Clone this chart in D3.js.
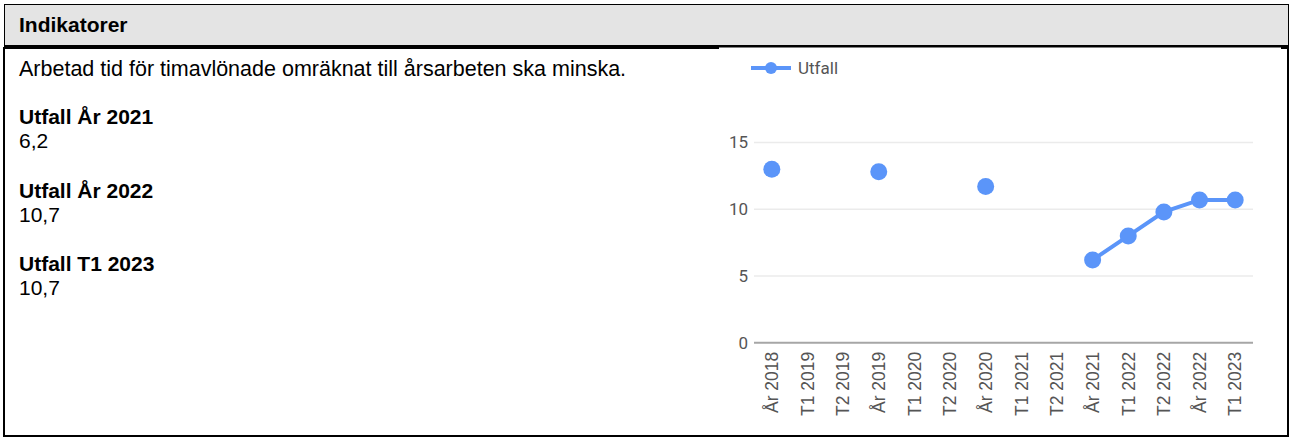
<!DOCTYPE html>
<meta charset="utf-8">
<style>
    body { margin: 0; background: #fff; }
    .info { font-family: "Liberation Sans", Arial, sans-serif; font-size: 21px; fill: #000; }
    .chart text { font-family: Roboto, "Liberation Sans", sans-serif; }
</style>

<script src="https://cdn.jsdelivr.net/npm/d3@7"></script>

<body>
<div id="card"></div>

<script>

    // chart data
    var categories = ["År 2018", "T1 2019", "T2 2019", "År 2019", "T1 2020", "T2 2020", "År 2020",
        "T1 2021", "T2 2021", "År 2021", "T1 2022", "T2 2022", "År 2022", "T1 2023"]
    var utfall = [13.0, null, null, 12.8, null, null, 11.7, null, null, 6.2, 8.0, 9.8, 10.7, 10.7]
    var yTicks = [0, 5, 10, 15]
    var seriesName = "Utfall"

    // text panel
    var title = "Indikatorer"
    var description = "Arbetad tid för timavlönade omräknat till årsarbeten ska minska."
    var infoLabels = ["Utfall År 2021", "Utfall År 2022", "Utfall T1 2023"]
    var infoValues = ["6,2", "10,7", "10,7"]

    var blue = "#5b95f9"

    var width = 1290
    var height = 439

    var svg = d3.select("#card")
        .append("svg")
        .attr("width", width)
        .attr("height", height)
        .style("display", "block")

    // outer frame + header
    svg.append("rect")
        .attr("x", 4.5).attr("y", 4.5)
        .attr("width", 1284).attr("height", 42)
        .attr("fill", "#e4e4e4")
        .attr("stroke", "#000")
        .attr("stroke-width", 1)

    svg.append("rect")
        .attr("x", 4).attr("y", 45)
        .attr("width", 1285).attr("height", 4)
        .attr("fill", "#000")

    svg.append("path")
        .attr("d", "M4,47 V436 H1288 V47")
        .attr("fill", "none")
        .attr("stroke", "#000")
        .attr("stroke-width", 2)

    // chart image background covers part of the header rule
    svg.append("rect")
        .attr("x", 719).attr("y", 47.5)
        .attr("width", 562).attr("height", 2)
        .attr("fill", "#fff")

    svg.append("text")
        .attr("class", "info")
        .attr("x", 19).attr("y", 32)
        .style("font-weight", "bold")
        .text(title)

    svg.append("text")
        .attr("class", "info")
        .attr("x", 19).attr("y", 76)
        .style("font-size", "21.5px")
        .text(description)

    infoLabels.forEach(function (lab, i) {
        svg.append("text")
            .attr("class", "info")
            .attr("x", 19).attr("y", 124 + i * 73.5)
            .style("font-weight", "bold")
            .text(lab)
        svg.append("text")
            .attr("class", "info")
            .attr("x", 19).attr("y", 148 + i * 73.5)
            .text(infoValues[i])
    })

    // chart
    var chart = svg.append("g").attr("class", "chart")

    var plotLeft = 754, plotRight = 1253, plotTop = 142.5, plotBottom = 342.7

    var x = d3.scalePoint()
        .domain(categories)
        .range([plotLeft, plotRight])
        .padding(0.5)

    var y = d3.scaleLinear()
        .domain([0, 15])
        .range([plotBottom, plotTop])

    // gridlines
    chart.selectAll(".grid")
        .data(yTicks)
        .enter()
        .append("line")
        .attr("x1", plotLeft).attr("x2", plotRight)
        .attr("y1", function (d) { return y(d) })
        .attr("y2", function (d) { return y(d) })
        .attr("stroke", function (d) { return d == 0 ? "#a6a6a6" : "#ebebeb" })
        .attr("stroke-width", function (d) { return d == 0 ? 2 : 1.5 })

    chart.selectAll(".ytick")
        .data(yTicks)
        .enter()
        .append("text")
        .attr("x", plotLeft - 6)
        .attr("y", function (d) { return y(d) })
        .attr("dy", "0.35em")
        .attr("text-anchor", "end")
        .attr("font-size", "17px")
        .attr("fill", "#555")
        .text(function (d) { return d })

    chart.selectAll(".xtick")
        .data(categories)
        .enter()
        .append("text")
        .attr("transform", function (d) { return "translate(" + x(d) + "," + (plotBottom + 9) + ") rotate(-90)" })
        .attr("dy", "0.36em")
        .attr("text-anchor", "end")
        .attr("font-size", "17.5px")
        .attr("fill", "#555")
        .style("font-family", "'Liberation Sans', Arial, sans-serif")
        .text(function (d) { return d })

    var pts = categories.map(function (c, i) { return { cat: c, v: utfall[i] } })

    var line = d3.line()
        .defined(function (d) { return d.v != null })
        .x(function (d) { return x(d.cat) })
        .y(function (d) { return y(d.v) })

    chart.append("path")
        .datum(pts)
        .attr("d", line)
        .attr("fill", "none")
        .attr("stroke", blue)
        .attr("stroke-width", 4)

    chart.selectAll(".dot")
        .data(pts.filter(function (d) { return d.v != null }))
        .enter()
        .append("circle")
        .attr("cx", function (d) { return x(d.cat) })
        .attr("cy", function (d) { return y(d.v) })
        .attr("r", 8.5)
        .attr("fill", blue)

    // legend
    chart.append("line")
        .attr("x1", 751).attr("x2", 791)
        .attr("y1", 68).attr("y2", 68)
        .attr("stroke", blue)
        .attr("stroke-width", 4)

    chart.append("circle")
        .attr("cx", 771).attr("cy", 68)
        .attr("r", 6)
        .attr("fill", blue)

    chart.append("text")
        .attr("x", 798).attr("y", 68)
        .attr("dy", "0.35em")
        .attr("font-size", "17px")
        .attr("fill", "#555")
        .text(seriesName)

</script>
</body>
